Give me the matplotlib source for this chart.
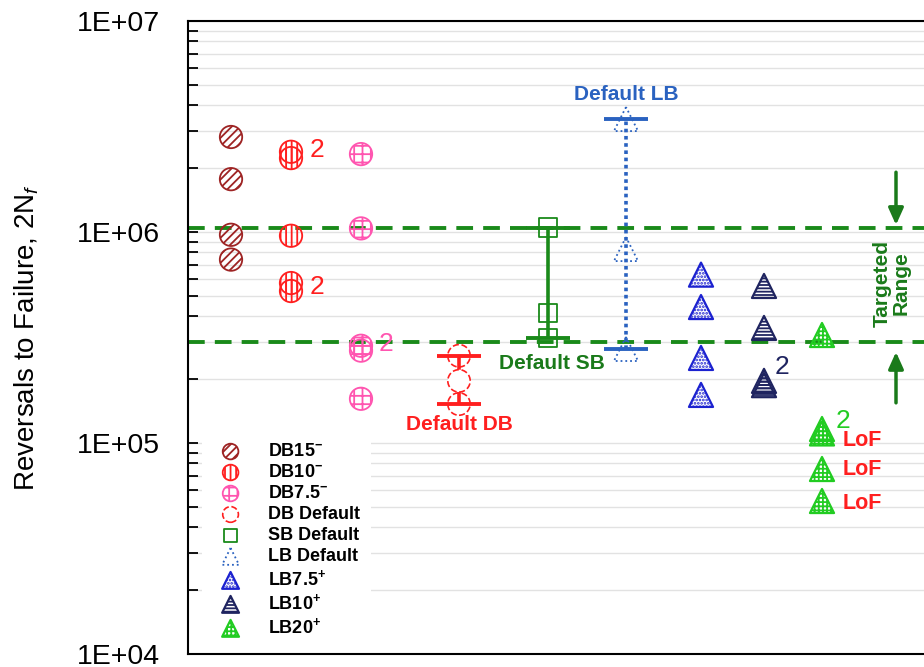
import numpy as np
import matplotlib.pyplot as plt
from matplotlib.ticker import FuncFormatter, LogLocator, NullFormatter

plt.rcParams['font.family'] = ['Liberation Sans', 'DejaVu Sans']
plt.rcParams['mathtext.fontset'] = 'custom'
plt.rcParams['mathtext.rm'] = 'Liberation Sans'
plt.rcParams['mathtext.it'] = 'Liberation Sans:italic'
plt.rcParams['mathtext.bf'] = 'Liberation Sans:bold'
plt.rcParams['hatch.linewidth'] = 1.3

# reversals to failure per build condition
db15 = [2.82e6, 1.78e6, 9.7e5, 7.4e5]
db10 = [2.40e6, 2.24e6, 9.6e5, 5.73e5, 5.25e5]
db75 = [2.34e6, 1.04e6, 2.89e5, 2.74e5, 1.62e5]
db_def = [2.59e5, 1.97e5, 1.53e5]
sb_def = [1.05e6, 4.13e5, 3.13e5]
lb_def = [3.43e6, 8.3e5, 2.79e5]
lb75 = [6.28e5, 4.41e5, 2.53e5, 1.69e5]
lb10 = [5.55e5, 3.51e5, 1.97e5, 1.88e5]
lb20 = [3.25e5, 1.165e5, 1.11e5, 7.53e4, 5.31e4]
lof = [1.03e5, 7.45e4, 5.14e4]          # lack-of-fusion failures
target_lo, target_hi = 3.0e5, 1.05e6

# horizontal placement of each group
x_db15, x_db10, x_db75 = 43, 103, 173
x_dbdef, x_sbdef, x_lbdef = 271, 360, 438
x_lb75, x_lb10, x_lb20, x_arrow = 513, 576, 634, 708

c_db15 = '#9e2424'
c_db10 = '#ff1f1f'
c_db75 = '#ff55b0'
c_green = '#1a8a1a'
c_lbdef = '#2a62c0'
c_lb75 = '#1c22d0'
c_lb10 = '#1f2460'
c_lb20 = '#22cc22'

fig = plt.figure(figsize=(9.24, 6.67), dpi=100)
ax = fig.add_axes([188 / 924, 13 / 667, 760 / 924, 633 / 667])
ax.set_xlim(0, 760)
ax.set_yscale('log')
ax.set_ylim(1e4, 1e7)

def pts(x, y, **kw):
    return ax.scatter([x] * len(y), y, zorder=4, **kw)

h1 = pts(x_db15, db15, marker='o', s=260, facecolors='none', edgecolors=c_db15,
         hatch='////', linewidths=1.3, label='DB15$^{\\mathbf{-}}$')
h2 = pts(x_db10, db10, marker='o', s=260, facecolors='none', edgecolors=c_db10,
         hatch='|||', linewidths=1.3, label='DB10$^{\\mathbf{-}}$')
h3 = pts(x_db75, db75, marker='o', s=260, facecolors='none', edgecolors=c_db75,
         hatch='++', linewidths=1.3, label='DB7.5$^{\\mathbf{-}}$')

# range bars for the default builds (min to max)
def range_bar(x, vals, color, ls='-'):
    mid = np.median(vals)
    err = [[mid - min(vals)], [max(vals) - mid]]
    eb = ax.errorbar([x], [mid], yerr=err, fmt='none', ecolor=color,
                     elinewidth=2.6, capsize=16, capthick=2.8, zorder=3)
    eb[2][0].set_linestyle(ls)

range_bar(x_dbdef, db_def, c_db10)
range_bar(x_sbdef, sb_def, c_green)
range_bar(x_lbdef, lb_def, c_lbdef, ls=(0, (1, 1)))

h4 = pts(x_dbdef, db_def, marker='o', s=260, facecolors=['none', 'white', 'none'],
         edgecolors=c_db10, linewidths=1.2, linestyle='--', label='DB Default')
h5 = pts(x_sbdef, sb_def, marker='s', s=170, facecolors='none', edgecolors=c_green,
         linewidths=1.3, label='SB Default')
h6 = pts(x_lbdef, lb_def, marker='^', s=300, facecolors='none', edgecolors=c_lbdef,
         linewidths=1.3, linestyle=':', label='LB Default')
h7 = pts(x_lb75, lb75, marker='^', s=300, facecolors='none', edgecolors=c_lb75,
         hatch='.....', linewidths=1.6, label='LB7.5$^{\\mathbf{+}}$')
h8 = pts(x_lb10, lb10, marker='^', s=300, facecolors='none', edgecolors=c_lb10,
         hatch='-----', linewidths=1.6, label='LB10$^{\\mathbf{+}}$')
h9 = pts(x_lb20, lb20, marker='^', s=300, facecolors='none', edgecolors=c_lb20,
         hatch='++++', linewidths=1.6, label='LB20$^{\\mathbf{+}}$')

# targeted life range
for v in (target_lo, target_hi):
    ax.axhline(v, color=c_green, lw=2.8, ls=(0, (4.3, 2.6)), zorder=2)

aprops = dict(arrowstyle='-|>,head_length=1.0,head_width=0.45', color='#1a7a1a',
              lw=2.5, shrinkA=0, shrinkB=0)
ax.annotate('', xy=(x_arrow, 1.08e6), xytext=(x_arrow, 1.92e6), arrowprops=aprops)
ax.annotate('', xy=(x_arrow, 2.7e5), xytext=(x_arrow, 1.55e5), arrowprops=aprops)
ax.text(x_arrow - 4, 5.7e5, 'Targeted\nRange', rotation=90, ha='center', va='center',
        multialignment='center', fontsize=15, fontweight='bold', color='#1a7a1a',
        linespacing=1.0)

ax.text(x_lbdef, 4.5e6, 'Default LB', ha='center', va='center', fontsize=15,
        fontweight='bold', color=c_lbdef)
ax.text(x_sbdef + 4, 2.39e5, 'Default SB', ha='center', va='center', fontsize=15,
        fontweight='bold', color='#1a7a1a')
ax.text(x_dbdef, 1.22e5, 'Default DB', ha='center', va='center', fontsize=15,
        fontweight='bold', color=c_db10)
for v in lof:
    ax.text(x_lb20 + 21, v, 'LoF', ha='left', va='center', fontsize=15.5,
            fontweight='bold', color=c_db10)

# duplicate-count labels
dups = [(x_db10, db10[0], 19, 1, c_db10), (x_db10, db10[4], 19, 3, c_db10),
        (x_db75, db75[3], 18, 5, c_db75), (x_lb10, lb10[3], 13, 13, c_lb10),
        (x_lb20, lb20[2], 15, 9, c_lb20)]
for x, y, dx, dy, c in dups:
    ax.annotate('2', (x, y), xytext=(dx, dy), textcoords='offset points',
                ha='center', va='center', fontsize=19, color=c)

ax.yaxis.set_major_locator(LogLocator(base=10))
ax.yaxis.set_minor_locator(LogLocator(base=10, subs=range(2, 10)))
ax.yaxis.set_minor_formatter(NullFormatter())
ax.yaxis.set_major_formatter(FuncFormatter(lambda v, p: f'1E+{int(round(np.log10(v))):02d}'))
ax.tick_params(axis='y', which='both', direction='in', length=7, width=1.3,
               labelsize=20.5, pad=20)
ax.set_xticks([])
ax.grid(True, which='both', axis='y', color='#e2e2e2', lw=1)
ax.set_axisbelow(True)
for s in ax.spines.values():
    s.set_linewidth(1.5)
ax.spines['right'].set_visible(False)
ax.set_ylabel('Reversals to Failure, 2N$_f$', fontsize=20, labelpad=26)

leg = ax.legend(handles=[h1, h2, h3, h4, h5, h6, h7, h8, h9], loc='upper left',
                bbox_to_anchor=(0.018, 0.35), borderaxespad=0, frameon=True,
                facecolor='white', edgecolor='none', framealpha=1,
                markerscale=0.7, handletextpad=1.1, labelspacing=0.22,
                borderpad=0.6, prop={'weight': 'bold', 'size': 13})

fig.savefig('out.png', dpi=100)
